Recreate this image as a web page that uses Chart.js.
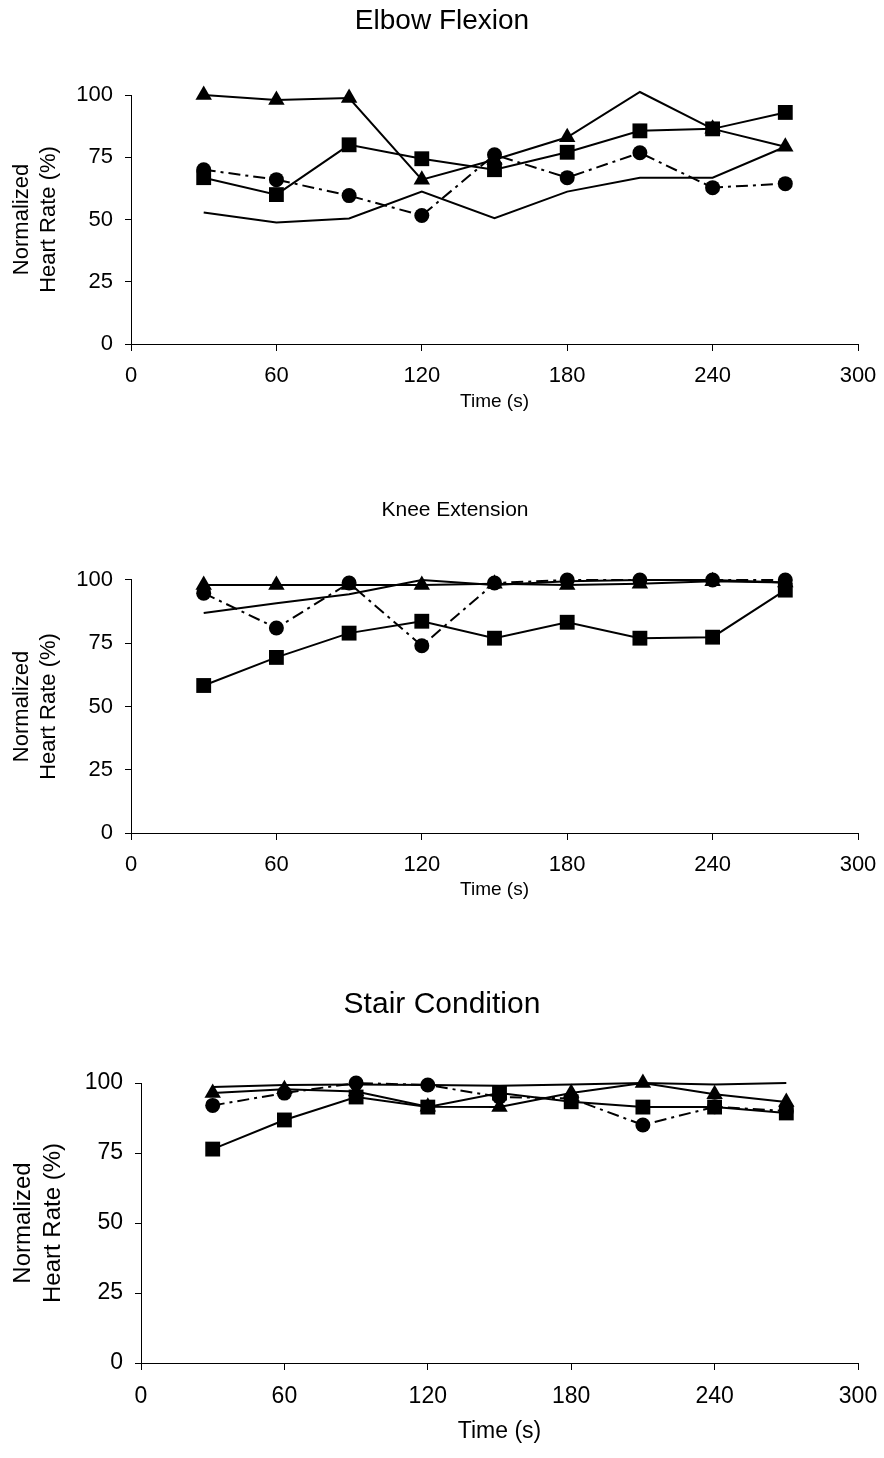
<!DOCTYPE html>
<html>
<head>
<meta charset="utf-8">
<script src="https://cdn.jsdelivr.net/npm/chart.js@4.4.1/dist/chart.umd.min.js"></script>
<style>
  html, body { margin: 0; padding: 0; background: #ffffff; }
  body { width: 884px; height: 1458px; position: relative; overflow: hidden; }
  canvas { position: absolute; left: 0; }
</style>
</head>
<body>
<canvas id="c1" width="884" height="420" style="top:0px"></canvas>
<canvas id="c2" width="884" height="440" style="top:470px"></canvas>
<canvas id="c3" width="884" height="498" style="top:960px"></canvas>
<script>
// ---- data ----
const times = [30, 60, 90, 120, 150, 180, 210, 240, 270];
const xTickValues = [0, 60, 120, 180, 240, 300];
const yTickValues = [0, 25, 50, 75, 100];
const chartTitles = ["Elbow Flexion", "Knee Extension", "Stair Condition"];
const xAxisTitle = "Time (s)";
const yAxisTitle = ["Normalized", "Heart Rate (%)"];

// Elbow Flexion
const elbowSquare   = [66.8, 60, 80, 74.4, 70, 77, 85.6, 86.4, 93];
const elbowTriangle = [100, 98, 98.8, 66, 74, 83, 101.2, 86.4, 79.2];
const elbowCircle   = [70, 66, 59.6, 51.6, 76, 66.8, 76.8, 62.8, 64.4];
const elbowPlain    = [52.8, 48.8, 50.4, 61.2, 50.5, 61.2, 66.8, 66.8, 79.2];

// Knee Extension
const kneeSquare   = [58.3, 69.4, 79, 83.7, 77, 83.3, 77, 77.4, 96];
const kneeTriangle = [98, 98, 98, 98, 98.5, 98, 98.5, 99.5, 99];
const kneeCircle   = [94.8, 81, 98.8, 74, 98.8, 100, 100, 100, 100];
const kneePlain    = [87, 90.8, 94.4, 100, 98, 99.5, 100, 100, 99];

// Stair Condition
const stairSquare   = [76.4, 86.8, 95, 91.4, 96.4, 93.3, 91.4, 91.4, 89.3];
const stairTriangle = [96.4, 97.8, 97, 91.5, 91.4, 96.4, 100, 96, 93.2];
const stairCircle   = [92, 96.4, 100, 99.3, 95, 94.5, 85, 91.5, 90];
const stairPlain    = [98.6, 99.3, 99.5, 99.3, 99, 99.5, 100, 99.5, 100];

// ---- helpers ----
const FONT = "'Liberation Sans', Arial, Helvetica, sans-serif";
const toPts = vals => times.map((t, i) => ({ x: t, y: vals[i] }));

function buildDatasets(sq, tri, circ, plain) {
  const hideAbove = r => (ctx) => (ctx.raw && ctx.raw.y > 100 ? 0 : r);
  return [
    { data: toPts(sq), borderColor: '#000', backgroundColor: '#000', borderWidth: 2,
      pointStyle: 'rect', pointRadius: hideAbove(10.5), pointBorderWidth: 0, order: 0 },
    { data: toPts(tri), borderColor: '#000', backgroundColor: '#000', borderWidth: 2,
      pointStyle: 'triangle', pointRadius: hideAbove(9.5), pointBorderWidth: 0, order: 1 },
    { data: toPts(circ), borderColor: '#000', backgroundColor: '#000', borderWidth: 2,
      borderDash: [12, 5, 3, 5], pointStyle: 'circle', pointRadius: hideAbove(7.5), pointBorderWidth: 0, order: 2 },
    { data: toPts(plain), borderColor: '#000', backgroundColor: '#000', borderWidth: 2,
      pointRadius: 0, order: 3 }
  ];
}

function makeChart(id, g, title, datasets) {
  const lh = g.titleSize * 1.2;
  const pt = g.titleCenter - g.top - lh / 2;
  const pb = g.plotTop - g.top - pt - lh;
  const xScaleH = g.height - (g.plotBottom - g.top);
  const xlh = g.xTitleSize * 1.2;
  const xpb = (g.top + g.height) - g.xTitleCenter - xlh / 2;
  const padL = g.padLeft || 0;
  new Chart(document.getElementById(id), {
    type: 'line',
    data: { datasets },
    options: {
      responsive: false, animation: false, devicePixelRatio: 1,
      layout: { padding: { left: padL, right: 0, top: 0, bottom: 0 } },
      plugins: {
        legend: { display: false }, tooltip: { enabled: false },
        title: { display: true, text: title, color: '#000',
                 font: { family: FONT, size: g.titleSize, weight: 'normal' },
                 padding: { top: pt, bottom: pb } }
      },
      elements: { line: { tension: 0 } },
      datasets: { line: { clip: false } },
      scales: {
        x: {
          type: 'linear', min: 0, max: 300,
          afterBuildTicks: s => { s.ticks = xTickValues.map(v => ({ value: v })); },
          afterFit: s => { s.height = xScaleH; s.paddingLeft = 0; s.paddingRight = 884 - g.plotRight; },
          ticks: { color: '#000', font: { family: FONT, size: g.tickSize }, padding: g.xTickPad, maxRotation: 0, autoSkip: false },
          grid: { display: true, drawOnChartArea: false, drawTicks: true, tickLength: 7, color: '#000', lineWidth: 1 },
          border: { display: true, color: '#000', width: 1 },
          title: { display: true, text: xAxisTitle, color: '#000',
                   font: { family: FONT, size: g.xTitleSize }, padding: { top: 0, bottom: xpb } }
        },
        y: {
          type: 'linear', min: 0, max: 100,
          afterBuildTicks: s => { s.ticks = yTickValues.map(v => ({ value: v })); },
          afterFit: s => { s.width = g.plotLeft - padL; s.paddingTop = 0; s.paddingBottom = 0; },
          ticks: { color: '#000', font: { family: FONT, size: g.tickSize }, padding: 12, autoSkip: false },
          grid: { display: true, drawOnChartArea: false, drawTicks: true, tickLength: 6, color: '#000', lineWidth: 1 },
          border: { display: true, color: '#000', width: 1 },
          title: { display: true, text: yAxisTitle, color: '#000',
                   font: { family: FONT, size: g.yTitleSize, lineHeight: 1.25 }, padding: { top: g.yTitlePad - padL, bottom: 0 } }
        }
      }
    }
  });
}

makeChart('c1', { top: 0, height: 420, plotTop: 95, plotBottom: 344, plotLeft: 131, plotRight: 858,
  titleSize: 28, titleCenter: 21, tickSize: 22, xTickPad: 12, xTitleSize: 19, xTitleCenter: 402,
  yTitleSize: 22, yTitlePad: 8 }, chartTitles[0], buildDatasets(elbowSquare, elbowTriangle, elbowCircle, elbowPlain));

makeChart('c2', { top: 470, height: 440, plotTop: 580, plotBottom: 833, plotLeft: 131, plotRight: 858, padLeft: 26,
  titleSize: 21, titleCenter: 510, tickSize: 22, xTickPad: 12, xTitleSize: 19, xTitleCenter: 890,
  yTitleSize: 22, yTitlePad: 8 }, chartTitles[1], buildDatasets(kneeSquare, kneeTriangle, kneeCircle, kneePlain));

makeChart('c3', { top: 960, height: 498, plotTop: 1083, plotBottom: 1363, plotLeft: 141, plotRight: 858,
  titleSize: 30, titleCenter: 1005, tickSize: 23, xTickPad: 13, xTitleSize: 23, xTitleCenter: 1432,
  yTitleSize: 24, yTitlePad: 8 }, chartTitles[2], buildDatasets(stairSquare, stairTriangle, stairCircle, stairPlain));
</script>
</body>
</html>
